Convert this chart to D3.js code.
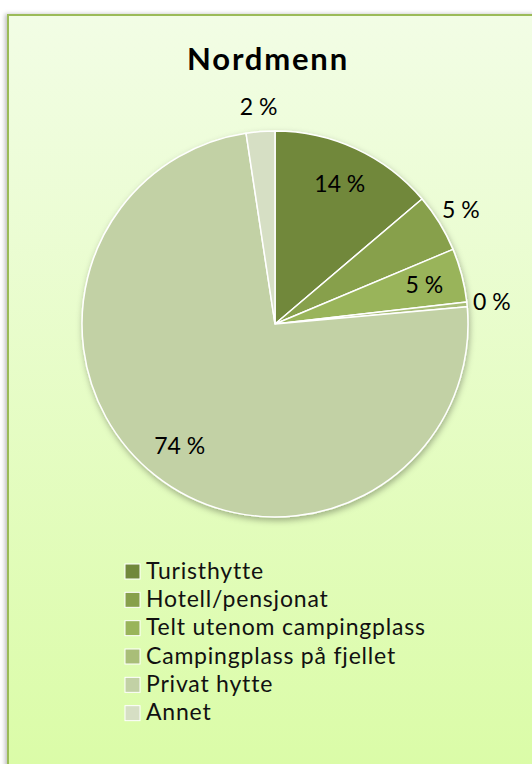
<!DOCTYPE html>
<html>
<head>
<meta charset="utf-8">
<script src="https://cdnjs.cloudflare.com/ajax/libs/d3/7.8.5/d3.min.js"></script>
<style>
  body { margin: 0; background: #fff; }
  text { font-family: Lato, "Open Sans", sans-serif; }
</style>
</head>
<body>
<script>
// chart data
var categories = ["Turisthytte", "Hotell/pensjonat", "Telt utenom campingplass",
  "Campingplass på fjellet", "Privat hytte", "Annet"];
var shares = [13.8, 4.9, 4.5, 0.4, 74.1, 2.4];
var labels = ["14 %", "5 %", "5 %", "0 %", "74 %", "2 %"];
var labelPos = ["in", "out", "in", "out", "in", "out"];
var colors = ["#71883b", "#87a04b", "#99b45a", "#a9be78", "#c2d1a5", "#d6dfc4"];
var title = "Nordmenn";

var width = 532;
var height = 764;
var cx = 275, cy = 324, radius = 193;

var svg = d3.select("body").append("svg")
  .attr("width", width)
  .attr("height", height);

var defs = svg.append("defs");

// background gradient, pale at top, greener at bottom
var grad = defs.append("linearGradient")
  .attr("id", "bg").attr("x1", 0).attr("y1", 0).attr("x2", 0).attr("y2", 1);
grad.append("stop").attr("offset", "0%").attr("stop-color", "#f2fde5");
grad.append("stop").attr("offset", "100%").attr("stop-color", "#dafca6");

var boxShadow = defs.append("filter").attr("id", "boxShadow")
  .attr("x", "-5%").attr("y", "-5%").attr("width", "110%").attr("height", "110%");
boxShadow.append("feDropShadow").attr("dx", -2).attr("dy", 0)
  .attr("stdDeviation", 2).attr("flood-color", "#000").attr("flood-opacity", 0.25);

var pieShadow = defs.append("filter").attr("id", "pieShadow")
  .attr("x", "-10%").attr("y", "-10%").attr("width", "120%").attr("height", "120%");
pieShadow.append("feDropShadow").attr("dx", 1).attr("dy", 3)
  .attr("stdDeviation", 3).attr("flood-color", "#000").attr("flood-opacity", 0.3);

// chart area box (runs off the right and bottom of the window)
svg.append("rect")
  .attr("x", 8).attr("y", 15)
  .attr("width", 540).attr("height", 770)
  .attr("fill", "url(#bg)")
  .attr("stroke", "#9bbb59")
  .attr("stroke-width", 2)
  .attr("filter", "url(#boxShadow)");

svg.append("text")
  .attr("x", 268).attr("y", 70)
  .attr("text-anchor", "middle")
  .attr("font-size", 31)
  .attr("font-weight", "bold")
  .attr("letter-spacing", 1.8)
  .attr("fill", "#000")
  .text(title);

var data = categories.map(function(c, i) {
  return { name: c, value: shares[i], label: labels[i], pos: labelPos[i], color: colors[i] };
});

var pie = d3.pie().sort(null).value(function(d) { return d.value; });
var arc = d3.arc().innerRadius(0).outerRadius(radius);
var labelArc = d3.arc().innerRadius(radius * 0.6).outerRadius(radius);
var outerArc = d3.arc().innerRadius(radius + 25).outerRadius(radius + 25);

var g = svg.append("g").attr("transform", "translate(" + cx + "," + cy + ")");

g.append("g").attr("filter", "url(#pieShadow)")
  .selectAll("path")
  .data(pie(data))
  .enter().append("path")
  .attr("d", arc)
  .attr("fill", function(d) { return d.data.color; })
  .attr("stroke", "#fff")
  .attr("stroke-width", 1.5)
  .attr("stroke-linejoin", "round");

g.selectAll("text.lbl")
  .data(pie(data))
  .enter().append("text")
  .attr("class", "lbl")
  .attr("transform", function(d) {
    var p = d.data.pos === "in" ? labelArc.centroid(d) : outerArc.centroid(d);
    return "translate(" + p + ")";
  })
  .attr("text-anchor", "middle")
  .attr("dy", "0.35em")
  .attr("font-size", 23)
  .attr("fill", "#000")
  .text(function(d) { return d.data.label; });

// legend
var legY = d3.scaleBand().domain(categories).range([564, 734]);
var legend = svg.append("g").selectAll("g")
  .data(data)
  .enter().append("g")
  .attr("transform", function(d) { return "translate(125," + legY(d.name) + ")"; });

legend.append("rect")
  .attr("width", 15).attr("height", 15)
  .attr("fill", function(d) { return d.color; })
  .attr("stroke", "#fff")
  .attr("stroke-width", 1);

legend.append("text")
  .attr("x", 21).attr("y", 14.5)
  .attr("font-size", 23)
  .attr("letter-spacing", 0.8)
  .attr("fill", "#111")
  .text(function(d) { return d.name; });
</script>
</body>
</html>
